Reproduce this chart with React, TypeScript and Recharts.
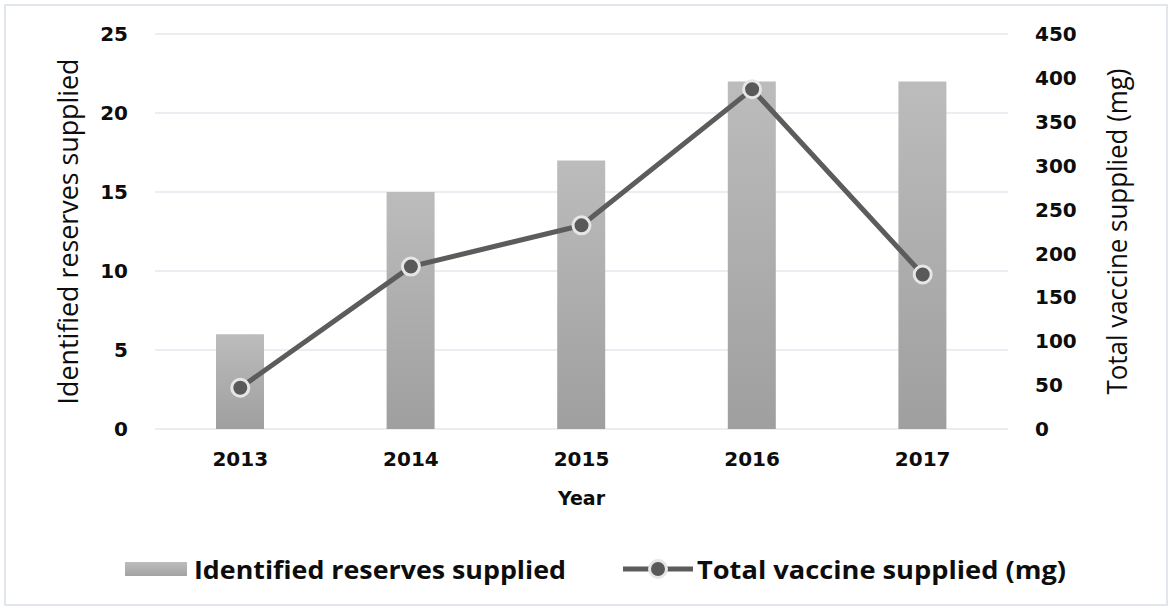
import React from 'react';
import {
  ComposedChart,
  Bar,
  Line,
  XAxis,
  YAxis,
  CartesianGrid,
} from 'recharts';

// Supply figures per year
const years = ['2013', '2014', '2015', '2016', '2017'];
const reservesSupplied = [6, 15, 17, 22, 22];
const vaccineSuppliedMg = [47, 185, 232, 387, 176];

const leftTicks = [0, 5, 10, 15, 20, 25];
const rightTicks = [0, 50, 100, 150, 200, 250, 300, 350, 400, 450];

const reservesName = 'Identified reserves supplied';
const vaccineName = 'Total vaccine supplied (mg)';

const data = years.map((year, i) => ({
  year,
  reserves: reservesSupplied[i],
  vaccine: vaccineSuppliedMg[i],
}));

const W = 1172;
const H = 608;

const tickStyle = {
  fill: '#0d0d0d',
  fontSize: 20,
  fontWeight: 'bold' as const,
  fontFamily: 'DejaVu Sans, Verdana, sans-serif',
};

const titleFont = 'Liberation Sans Narrow, Open Sans, Liberation Sans, sans-serif';

// Rotated axis title centred on the axis band
function AxisTitle(props: any) {
  const { viewBox, value, dx, length } = props;
  const cx = viewBox.x + dx;
  const cy = viewBox.y + viewBox.height / 2;
  return (
    <text
      x={cx}
      y={cy}
      transform={`rotate(-90 ${cx} ${cy})`}
      textAnchor="middle"
      dominantBaseline="central"
      fontFamily={titleFont}
      fontSize={28}
      fill="#0d0d0d"
      textLength={length}
      lengthAdjust="spacingAndGlyphs"
    >
      {value}
    </text>
  );
}

function LegendRow() {
  const y = 569;
  return (
    <svg
      width={W}
      height={H}
      style={{ position: 'absolute', left: 0, top: 0, pointerEvents: 'none' }}
    >
      <defs>
        <linearGradient id="legendBar" x1="0" y1="0" x2="0" y2="1">
          <stop offset="0%" stopColor="#bdbdbd" />
          <stop offset="100%" stopColor="#a3a3a3" />
        </linearGradient>
      </defs>
      <rect x={125} y={562} width={62} height={14} fill="url(#legendBar)" />
      <text
        x={194}
        y={y}
        dominantBaseline="central"
        fontFamily={titleFont}
        fontWeight="bold"
        fontSize={25}
        fill="#0d0d0d"
        textLength={372}
        lengthAdjust="spacingAndGlyphs"
      >
        {reservesName}
      </text>
      <line x1={623} y1={y} x2={693} y2={y} stroke="#5c5c5c" strokeWidth={5} />
      <circle cx={658} cy={y} r={8.5} fill="#595959" stroke="#e6e6e6" strokeWidth={3} />
      <text
        x={697}
        y={y}
        dominantBaseline="central"
        fontFamily={titleFont}
        fontWeight="bold"
        fontSize={25}
        fill="#0d0d0d"
        textLength={369}
        lengthAdjust="spacingAndGlyphs"
      >
        {vaccineName}
      </text>
    </svg>
  );
}

export default function App() {
  return (
    <div
      style={{
        position: 'absolute',
        left: 0,
        top: 0,
        width: W,
        height: H,
        background: '#fff',
      }}
    >
      <div
        style={{
          position: 'absolute',
          left: 4,
          top: 4,
          width: W - 8,
          height: H - 6,
          border: '2px solid #e1e5ec',
          boxSizing: 'border-box',
        }}
      />
      <div style={{ position: 'absolute', left: 0, top: 0 }}>
        <ComposedChart
          width={W}
          height={H}
          data={data}
          margin={{ top: 34, right: 0, left: 0, bottom: 89 }}
          barCategoryGap={0}
        >
          <defs>
            <linearGradient id="barFill" x1="0" y1="0" x2="0" y2="1">
              <stop offset="0%" stopColor="#bcbcbc" />
              <stop offset="100%" stopColor="#9f9f9f" />
            </linearGradient>
          </defs>
          <CartesianGrid
            vertical={false}
            stroke="#e3e7ee"
            strokeWidth={1.5}
            yAxisId="left"
          />
          <XAxis
            dataKey="year"
            height={90}
            axisLine={false}
            tickLine={false}
            tickSize={0}
            tickMargin={23}
            tick={tickStyle}
            label={{
              value: 'Year',
              position: 'insideBottom',
              offset: 14,
              style: {
                fill: '#0d0d0d',
                fontSize: 19,
                fontWeight: 'bold',
                fontFamily: 'DejaVu Sans, Verdana, sans-serif',
              },
            }}
          />
          <YAxis
            yAxisId="left"
            orientation="left"
            width={155}
            domain={[0, 25]}
            ticks={leftTicks}
            axisLine={false}
            tickLine={false}
            tickSize={0}
            tickMargin={27}
            tick={tickStyle}
            label={<AxisTitle value={reservesName} dx={67} length={346} />}
          />
          <YAxis
            yAxisId="right"
            orientation="right"
            width={164}
            domain={[0, 450]}
            ticks={rightTicks}
            axisLine={false}
            tickLine={false}
            tickSize={0}
            tickMargin={27}
            tick={{ ...tickStyle, textAnchor: 'start' }}
            label={<AxisTitle value={vaccineName} dx={108} length={326} />}
          />
          <Bar
            yAxisId="left"
            dataKey="reserves"
            name={reservesName}
            barSize={48}
            fill="url(#barFill)"
            isAnimationActive={false}
          />
          <Line
            yAxisId="right"
            dataKey="vaccine"
            name={vaccineName}
            type="linear"
            stroke="#5c5c5c"
            strokeWidth={5}
            dot={{ r: 8.5, fill: '#595959', stroke: '#e6e6e6', strokeWidth: 3 }}
            activeDot={false}
            isAnimationActive={false}
          />
        </ComposedChart>
      </div>
      <LegendRow />
    </div>
  );
}
